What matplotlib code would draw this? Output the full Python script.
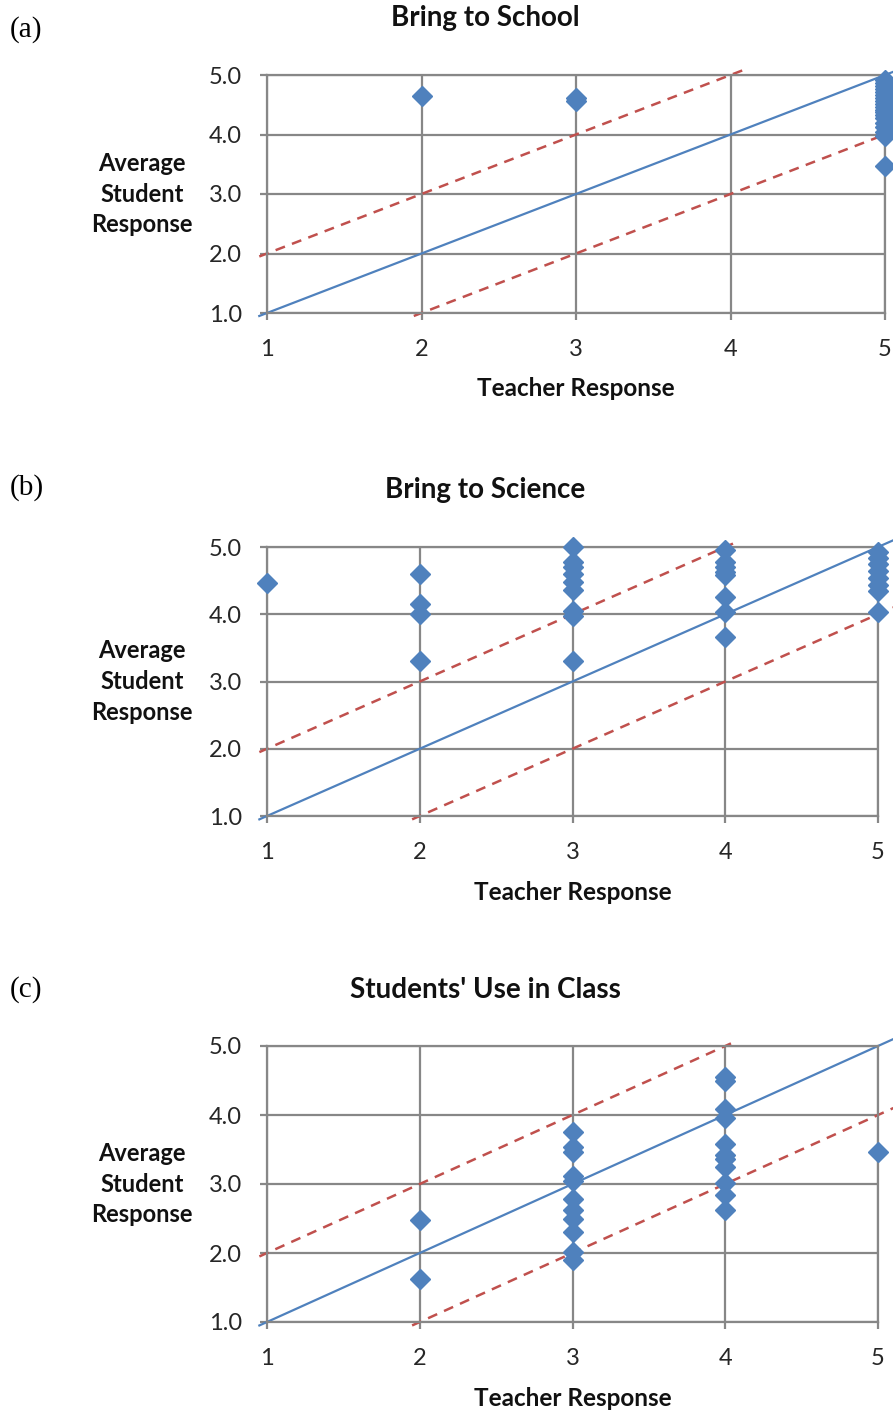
import numpy as np
import matplotlib.pyplot as plt

# panel (a) Bring to School
a_teacher = [2, 3, 3,
             5, 5, 5, 5, 5, 5, 5, 5, 5, 5, 5, 5, 5, 5, 5, 5, 5, 5, 5]
a_student = [4.65, 4.62, 4.56,
             4.92, 4.87, 4.82, 4.77, 4.72, 4.67, 4.62, 4.57, 4.52, 4.47,
             4.42, 4.37, 4.32, 4.27, 4.20, 4.12, 4.05, 3.98, 3.47]

# panel (b) Bring to Science
b_teacher = [1,
             2, 2, 2, 2,
             3, 3, 3, 3, 3, 3, 3, 3, 3,
             4, 4, 4, 4, 4, 4, 4, 4,
             5, 5, 5, 5, 5, 5, 5, 5]
b_student = [4.47,
             4.60, 4.15, 4.00, 3.30,
             5.00, 4.78, 4.70, 4.60, 4.48, 4.36, 4.05, 3.97, 3.30,
             4.95, 4.78, 4.70, 4.63, 4.58, 4.26, 4.03, 3.66,
             4.92, 4.84, 4.74, 4.64, 4.54, 4.44, 4.34, 4.03]

# panel (c) Students' Use in Class
c_teacher = [2, 2,
             3, 3, 3, 3, 3, 3, 3, 3, 3, 3, 3,
             4, 4, 4, 4, 4, 4, 4, 4, 4, 4, 4,
             5]
c_student = [2.48, 1.62,
             3.75, 3.54, 3.47, 3.12, 3.05, 2.78, 2.62, 2.50, 2.30, 2.02, 1.90,
             4.55, 4.50, 4.08, 3.95, 3.58, 3.42, 3.36, 3.25, 3.01, 2.84, 2.63,
             3.47]

titles = ["Bring to School", "Bring to Science", "Students' Use in Class"]
letters = ["(a)", "(b)", "(c)"]
x_ticks = [1, 2, 3, 4, 5]
y_ticks = [1.0, 2.0, 3.0, 4.0, 5.0]

plt.rcParams['font.family'] = ['Lato', 'DejaVu Sans']

W, H = 893, 1414
fig = plt.figure(figsize=(W / 100, H / 100), dpi=100)

# axes boxes in pixels: left, right, top, bottom
boxes = [(267, 885, 75, 313), (267, 878, 547, 816), (267, 878, 1046, 1322)]
title_y = [18, 490, 990]
letter_y = [30, 488, 990]

blue = '#4F81BD'
red = '#C0504D'
grey = '#878787'

data = [(a_teacher, a_student), (b_teacher, b_student), (c_teacher, c_student)]

for i, (tx, sy) in enumerate(data):
    l, r, t, b = boxes[i]
    ax = fig.add_axes([l / W, 1 - b / H, (r - l) / W, (b - t) / H])
    ax.set_xlim(1, 5)
    ax.set_ylim(1, 5)
    ax.set_xticks(x_ticks)
    ax.set_yticks(y_ticks)
    ax.set_yticklabels([f'{v:.1f}' for v in y_ticks])
    ax.grid(True, color=grey, linewidth=1.6, zorder=0)
    for s in ax.spines.values():
        s.set_color(grey)
        s.set_linewidth(1.6)
    ax.tick_params(colors=grey, width=1.6, length=5, labelcolor='#262626',
                   labelsize=17)
    ax.tick_params(axis='x', pad=14)
    ax.tick_params(axis='y', pad=13)
    ax.set_axisbelow(True)

    xs = np.array([0.95, 5.1])
    ax.plot(xs, xs, color=blue, lw=1.6, clip_on=False, zorder=2)
    xu = np.array([0.95, 4.08])
    ax.plot(xu, xu + 1, color=red, lw=1.8, ls=(0, (4, 3)), clip_on=False, zorder=2)
    xl = np.array([1.95, 5.1])
    ax.plot(xl, xl - 1, color=red, lw=1.8, ls=(0, (4, 3)), clip_on=False, zorder=2)

    ax.plot(tx, sy, ls='none', marker='D', ms=10, color=blue, mec=blue,
            clip_on=False, zorder=3)

    yc = 1 - (t + b) / 2 / H
    fig.text(142 / W, yc, "Average\nStudent\nResponse", ha='center', va='center',
             fontsize=17, fontweight='bold', linespacing=1.4, color='#111111')
    fig.text((l + r) / 2 / W, 1 - (b + 76) / H, "Teacher Response",
             ha='center', va='center', fontsize=17.5, fontweight='bold', color='#111111')
    fig.text(485 / W, 1 - title_y[i] / H, titles[i], ha='center', va='center',
             fontsize=20, fontweight='bold', color='#111111')
    fig.text(10 / W, 1 - letter_y[i] / H, letters[i], ha='left', va='center',
             fontsize=21, family='Liberation Serif', color='black')

fig.savefig('out.png', dpi=100)
